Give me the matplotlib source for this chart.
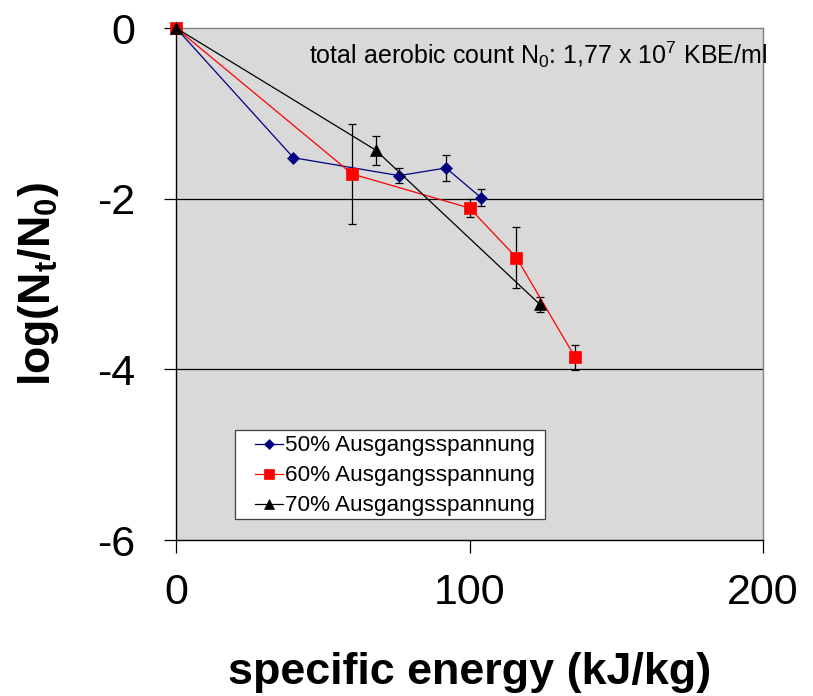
import matplotlib
matplotlib.use('Agg')
import matplotlib.pyplot as plt
from matplotlib.patches import Rectangle
import numpy as np

plt.rcParams['font.family'] = ['Liberation Sans', 'DejaVu Sans']
plt.rcParams['mathtext.fontset'] = 'custom'
plt.rcParams['mathtext.rm'] = 'Liberation Sans'
plt.rcParams['mathtext.it'] = 'Liberation Sans:italic'
plt.rcParams['mathtext.bf'] = 'Liberation Sans:bold'
plt.rcParams['axes.unicode_minus'] = False

# data
energy_50 = [0, 40, 76, 92, 104]
log_50 = [0, -1.52, -1.73, -1.64, -1.99]
err_50 = [0, 0, 0.09, 0.15, 0.10]

energy_60 = [0, 60, 100, 116, 136]
log_60 = [0, -1.71, -2.11, -2.69, -3.86]
err_60 = [0, 0.59, 0.11, 0.36, 0.15]

energy_70 = [0, 68, 124]
log_70 = [0, -1.43, -3.24]
err_70 = [0, 0.17, 0.09]

labels = ['50% Ausgangsspannung', '60% Ausgangsspannung', '70% Ausgangsspannung']
xticks = [0, 100, 200]
yticks = [0, -2, -4, -6]

W, H = 813, 696
fig = plt.figure(figsize=(W / 100, H / 100), dpi=100)
ax = fig.add_axes([176 / W, 1 - 540 / H, 587 / W, 512 / H])
ax.set_facecolor('#d9d9d9')

series = [
    (energy_50, log_50, err_50, '#000080', 'D', 6.3, 5.4),
    (energy_60, log_60, err_60, '#ff0000', 's', 8.6, 7.0),
    (energy_70, log_70, err_70, '#000000', '^', 8.8, 7.5),
]

for y in [-2, -4]:
    ax.axhline(y, color='#000000', lw=0.9, zorder=1)

handles = []
for (x, y, e, c, m, ms, _), lab in zip(series, labels):
    ax.errorbar(x, y, yerr=e, fmt='none', ecolor='black', elinewidth=0.9,
                capsize=3, capthick=0.9, zorder=2)
    h, = ax.plot(x, y, color=c, lw=0.9, marker=m, markersize=ms,
                 markeredgecolor=c, markeredgewidth=0.5, label=lab,
                 zorder=3, clip_on=False)
    handles.append(h)

ax.set_xlim(0, 200)
ax.set_ylim(-6, 0)
ax.set_xticks(xticks)
ax.set_yticks(yticks)
ax.tick_params(axis='both', direction='out', length=9, width=0.9,
               labelsize=31, colors='black')
ax.tick_params(axis='y', pad=20)
ax.tick_params(axis='x', pad=15)

for side in ['left', 'bottom']:
    ax.spines[side].set_color('black')
    ax.spines[side].set_linewidth(1.0)
for side in ['top', 'right']:
    ax.spines[side].set_color('#808080')
    ax.spines[side].set_linewidth(1.0)

ax.set_xlabel('specific energy (kJ/kg)', fontsize=32.3, fontweight='bold')
ax.xaxis.set_label_coords(0.5, -0.218)
ax.xaxis.label.set_va('top')
ax.set_ylabel(r'$\mathbf{log(N_t/N_0)}$', fontsize=32)
ax.yaxis.set_label_coords(-0.235, 0.5)
ax.yaxis.label.set_va('center')

ax.text(1.007, 0.947, r'total aerobic count N$_0$: 1,77 x 10$^7$ KBE/ml',
        transform=ax.transAxes, ha='right', va='center', fontsize=18)

# legend box drawn as a plain frame, legend entries placed inside it
box = Rectangle((235 / W, 1 - 519 / H), 310 / W, 89 / H, transform=fig.transFigure,
                facecolor='white', edgecolor='#404040', lw=0.9, zorder=4)
ax.add_patch(box)
box.set_clip_on(False)

leg = ax.legend(handles=handles, loc='center left',
                bbox_to_anchor=(255 / W, 1 - 476 / H),
                bbox_transform=fig.transFigure, fontsize=16.2,
                frameon=False, handlelength=1.24, handletextpad=0.1,
                labelspacing=0.4, borderpad=0, borderaxespad=0)
leg.set_zorder(5)
for lh, s in zip(leg.legend_handles, series):
    lh.set_markersize(s[6])

fig.savefig('out.png', dpi=100)
